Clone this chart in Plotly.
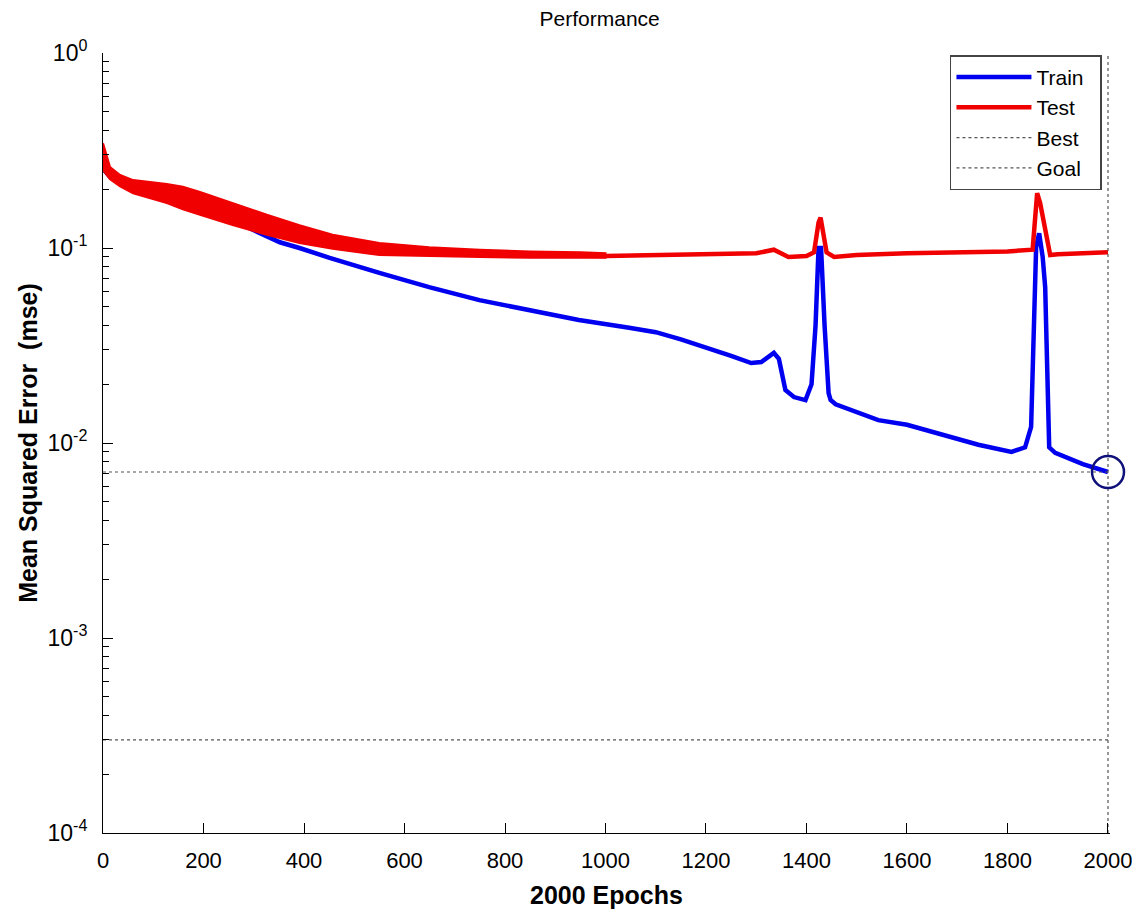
import plotly.graph_objects as go

# ---- data ----
train_epochs = [0, 14, 34, 60, 127, 193, 258, 307, 352, 391, 451, 550, 649, 749, 848, 947, 1047,
                1100, 1150, 1200, 1250, 1290, 1310, 1335, 1345, 1358, 1375, 1398, 1410, 1418,
                1424, 1429, 1432, 1436, 1444, 1448, 1458, 1500, 1543, 1600, 1700, 1742, 1808, 1835,
                1847, 1852, 1857, 1863, 1870, 1875, 1880, 1883, 1895, 1950, 2000]
train_mse = [0.255, 0.232, 0.215, 0.201, 0.182, 0.159, 0.139, 0.121, 0.107, 0.100, 0.089, 0.0745,
             0.063, 0.054, 0.048, 0.0427, 0.039, 0.037, 0.034, 0.031, 0.028, 0.0257, 0.026, 0.029,
             0.027, 0.0187, 0.0172, 0.0166, 0.020, 0.040, 0.100, 0.100, 0.060, 0.040, 0.018,
             0.0166, 0.0158, 0.0145, 0.0131, 0.0124, 0.0106, 0.0098, 0.0090, 0.0095, 0.0121,
             0.030, 0.101, 0.119, 0.090, 0.063, 0.020, 0.0095, 0.0089, 0.0078, 0.0071]

test_epochs = [0, 14, 34, 60, 127, 193, 258, 326, 391, 457, 550, 649, 750, 850, 1000,
               1100, 1200, 1300, 1335, 1364, 1400, 1415, 1424, 1428, 1432, 1440, 1455, 1500, 1600,
               1700, 1800, 1850, 1859, 1865, 1871, 1885, 1900, 2000]
test_mse = [0.29, 0.24, 0.22, 0.206, 0.19, 0.17, 0.15, 0.132, 0.118, 0.108, 0.099, 0.096,
            0.094, 0.092, 0.091, 0.092, 0.092, 0.094, 0.098, 0.090, 0.091, 0.095,
            0.135, 0.143, 0.125, 0.095, 0.090, 0.092, 0.094, 0.095, 0.096, 0.098, 0.191, 0.170,
            0.139, 0.092, 0.093, 0.095]

# oscillation envelope of the test curve
band_epochs = [0, 14, 34, 60, 127, 159, 193, 258, 326, 391, 457, 550, 649, 750, 850, 950, 1000]
band_upper = [0.345, 0.26, 0.237, 0.223, 0.213, 0.206, 0.194, 0.170, 0.148, 0.131, 0.117, 0.106,
              0.101, 0.098, 0.096, 0.095, 0.094]
band_lower = [0.251, 0.225, 0.207, 0.191, 0.170, 0.158, 0.148, 0.131, 0.117, 0.106, 0.099, 0.092,
              0.091, 0.090, 0.089, 0.089, 0.089]

best_epoch = 2000
best_mse = 0.0071
goal_mse = 0.0003

x_ticks = [0, 200, 400, 600, 800, 1000, 1200, 1400, 1600, 1800, 2000]
y_tick_vals = [1e-4, 1e-3, 1e-2, 1e-1, 1]
y_tick_text = ["10<sup>-4</sup>", "10<sup>-3</sup>", "10<sup>-2</sup>", "10<sup>-1</sup>", "10<sup>0</sup>"]
legend_names = ["Train", "Test", "Best", "Goal"]

FONT = "Liberation Sans, Arial, Helvetica, sans-serif"
BLUE = "#0000f0"
RED = "#f00000"
PAD = "\u00a0\u00a0"

fig = go.Figure()

# train on the base axes
fig.add_trace(go.Scatter(x=train_epochs, y=train_mse, mode="lines", name=legend_names[0] + PAD,
                         line=dict(color=BLUE, width=4.5)))

# test envelope + test curve on an overlaid (invisible) axis so they sit above the train curve
fig.add_trace(go.Scatter(
    x=band_epochs + band_epochs[::-1],
    y=band_upper + band_lower[::-1],
    fill="toself", fillcolor=RED, line=dict(color=RED, width=2),
    mode="lines", showlegend=False, hoverinfo="skip", yaxis="y2"))

fig.add_trace(go.Scatter(x=test_epochs, y=test_mse, mode="lines", name=legend_names[1] + PAD,
                         line=dict(color=RED, width=4.5), yaxis="y2"))

# Best: horizontal + vertical dotted lines
fig.add_trace(go.Scatter(x=[0, 2004, None, best_epoch, best_epoch],
                         y=[best_mse, best_mse, None, 1e-4, 1],
                         mode="lines", name=legend_names[2] + PAD,
                         line=dict(color="#555555", width=1.2, dash="dot"), yaxis="y2"))
fig.add_trace(go.Scatter(x=[0, 2004], y=[goal_mse, goal_mse], mode="lines",
                         name=legend_names[3] + PAD,
                         line=dict(color="#555555", width=1.2, dash="dot"), yaxis="y2"))

# best point circle
fig.add_trace(go.Scatter(x=[best_epoch], y=[best_mse], mode="markers", showlegend=False,
                         cliponaxis=False, yaxis="y2",
                         marker=dict(symbol="circle-open", size=32,
                                     line=dict(color="#10107a", width=2.5), color="#10107a")))

minor_vals = [m * 10 ** e for e in range(-4, 0) for m in range(2, 10)]

fig.update_layout(
    width=1140, height=914,
    paper_bgcolor="white", plot_bgcolor="white",
    margin=dict(l=95, r=38, t=45, b=89),
    font=dict(family=FONT, color="black"),
    title=dict(text="Performance", x=0.519, xanchor="center", y=0.988, yanchor="middle",
               font=dict(size=21, family=FONT)),
    legend=dict(x=0.992, y=0.997, xanchor="right", yanchor="top",
                bgcolor="white", bordercolor="#444444", borderwidth=1.5,
                font=dict(size=21, family=FONT), itemwidth=75,
                tracegroupgap=0),
    showlegend=True,
    yaxis2=dict(overlaying="y", type="log", range=[-4, 0], visible=False,
                showgrid=False, zeroline=False),
)

fig.update_xaxes(
    range=[0, 2004], tickvals=x_ticks, ticktext=[str(v) for v in x_ticks],
    ticks="inside", ticklen=10, tickcolor="black", tickwidth=1, ticklabelstandoff=8,
    showline=True, linecolor="black", linewidth=1, showgrid=False, zeroline=False,
    tickfont=dict(size=22, family=FONT),
    title=dict(text="<b>2000 Epochs</b>", font=dict(size=25, family=FONT), standoff=14),
)
fig.update_layout(yaxis=dict(
    type="log", range=[-4, 0], tickvals=y_tick_vals, ticktext=y_tick_text,
    ticks="inside", ticklen=10, tickcolor="black", tickwidth=1, ticklabelstandoff=10,
    minor=dict(tickvals=minor_vals, ticks="inside", ticklen=6, tickcolor="black", showgrid=False),
    showline=True, linecolor="black", linewidth=1, showgrid=False, zeroline=False,
    tickfont=dict(size=23, family=FONT),
    title=dict(text="<b>Mean Squared Error\u00a0\u00a0(mse)</b>", font=dict(size=25, family=FONT),
               standoff=2),
))

fig.write_html("out.html")
